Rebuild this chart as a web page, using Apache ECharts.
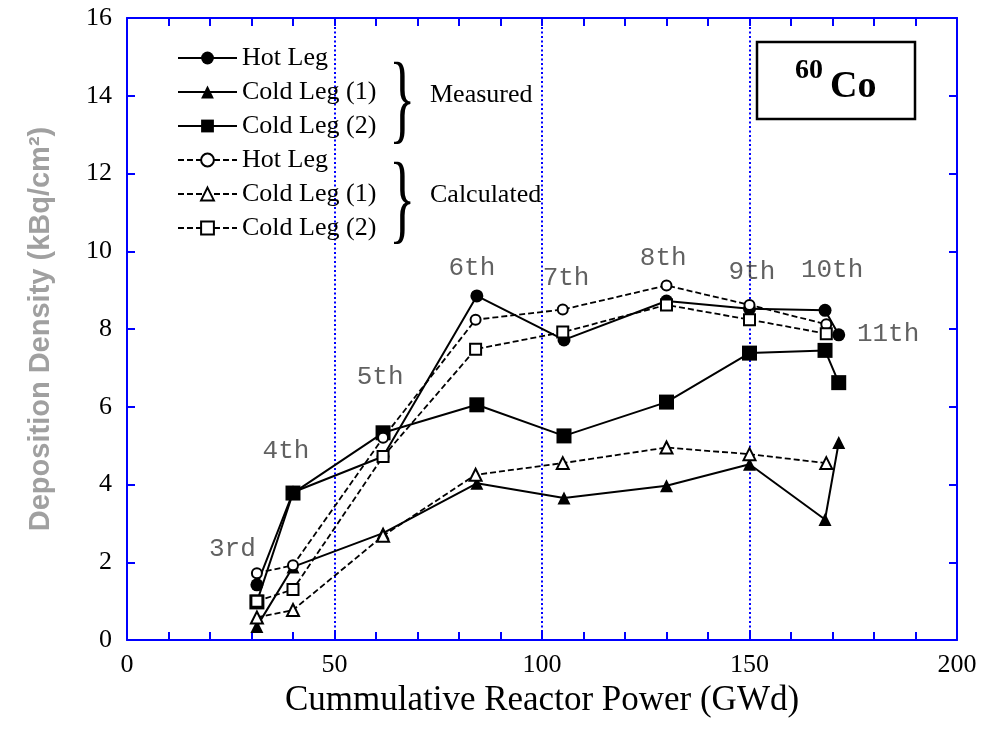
<!DOCTYPE html>
<html><head><meta charset="utf-8">
<script src="https://cdn.jsdelivr.net/npm/echarts/dist/echarts.min.js"></script>
<style>html,body{margin:0;padding:0;background:#fff}#c{width:985px;height:742px}</style>
</head><body><div id="c"></div>
<script>
// ---- data ----
const xMeasured = [31.3, 40, 61.7, 84.3, 105.3, 130, 150, 168.2, 171.5];
const hotLegMeasured = [1.42, 3.8, 4.72, 8.85, 7.72, 8.72, 8.52, 8.48, 7.85];
const coldLeg1Measured = [0.35, 1.88, 2.75, 4.03, 3.65, 3.97, 4.52, 3.1, 5.08];
const coldLeg2Measured = [0.98, 3.78, 5.33, 6.05, 5.25, 6.12, 7.38, 7.45, 6.62];

const xCalculated = [31.3, 40, 61.7, 84, 105, 130, 150, 168.5];
const hotLegCalculated = [1.72, 1.92, 5.2, 8.24, 8.5, 9.12, 8.62, 8.12];
const coldLeg1Calculated = [0.58, 0.77, 2.68, 4.25, 4.55, 4.95, 4.78, 4.55];
const coldLeg2Calculated = [1.0, 1.3, 4.72, 7.48, 7.92, 8.62, 8.24, 7.88];

const cycleLabels = ['3rd', '4th', '5th', '6th', '7th', '8th', '9th', '10th', '11th'];
const cycleLabelX = [25.4, 38.3, 61, 83.1, 105.8, 129.2, 150.6, 169.9, 183.4];
const cycleLabelY = [2.34, 4.86, 6.75, 9.57, 9.31, 9.83, 9.47, 9.52, 7.87];

const xTicks = [0, 50, 100, 150, 200];
const yTicks = [0, 2, 4, 6, 8, 10, 12, 14, 16];

// ---- chart ----
const BLUE = '#0000ff';
const SERIF = 'Liberation Serif';
const pairs = (xs, ys) => xs.map((x, i) => [x, ys[i]]);

const chart = echarts.init(document.getElementById('c'), null, {renderer: 'canvas'});

const measuredLine = {color: '#000', width: 2, type: 'solid'};
const calcLine = {color: '#000', width: 1.8, type: [6, 3]};
const openItem = {color: '#fff', borderColor: '#000', borderWidth: 2};

const series = [
  {name: 'M|Hot Leg', type: 'line', data: pairs(xMeasured, hotLegMeasured), symbol: 'circle', symbolSize: 13,
   itemStyle: {color: '#000'}, lineStyle: measuredLine, z: 2},
  {name: 'M|Cold Leg (1)', type: 'line', data: pairs(xMeasured, coldLeg1Measured), symbol: 'triangle', symbolSize: 13,
   itemStyle: {color: '#000'}, lineStyle: measuredLine, z: 2},
  {name: 'M|Cold Leg (2)', type: 'line', data: pairs(xMeasured, coldLeg2Measured), symbol: 'rect', symbolSize: 15,
   itemStyle: {color: '#000'}, lineStyle: measuredLine, z: 2},
  {name: 'C|Hot Leg', type: 'line', data: pairs(xCalculated, hotLegCalculated), symbol: 'circle', symbolSize: 10,
   itemStyle: openItem, lineStyle: calcLine, z: 3},
  {name: 'C|Cold Leg (1)', type: 'line', data: pairs(xCalculated, coldLeg1Calculated), symbol: 'triangle', symbolSize: 12,
   itemStyle: openItem, lineStyle: calcLine, z: 3},
  {name: 'C|Cold Leg (2)', type: 'line', data: pairs(xCalculated, coldLeg2Calculated), symbol: 'rect', symbolSize: 11,
   itemStyle: openItem, lineStyle: calcLine, z: 3},
  {name: 'cycles', type: 'scatter', symbolSize: 1, itemStyle: {color: 'rgba(0,0,0,0)'}, z: 4,
   data: cycleLabels.map((t, i) => ({name: t, value: [cycleLabelX[i], cycleLabelY[i]]})),
   label: {show: true, position: 'inside', formatter: '{b}', fontFamily: 'Liberation Mono', fontSize: 26, color: '#3a3a3a'}}
];

const axisLine = {show: true, onZero: false, lineStyle: {color: BLUE, width: 2}};
const tick = {show: true, inside: true, length: 8, lineStyle: {color: BLUE, width: 2}};

const option = {
  animation: false,
  backgroundColor: '#fff',
  grid: {left: 127, right: 28, top: 18, bottom: 102, containLabel: false, outerBoundsMode: 'none'},
  xAxis: [
    {type: 'value', position: 'bottom', min: 0, max: 200, interval: 50,
     axisLine, axisTick: tick,
     minorTick: {show: true, splitNumber: 5, length: 8, lineStyle: {color: BLUE, width: 2}},
     axisLabel: {show: true, margin: 12, fontFamily: SERIF, fontSize: 26, color: '#000',
                 formatter: v => xTicks.includes(v) ? String(v) : ''},
     splitLine: {show: true, lineStyle: {color: BLUE, width: 2, type: [2, 2.5]}},
     name: 'Cummulative Reactor Power (GWd)', nameLocation: 'middle', nameGap: 34,
     nameTextStyle: {fontFamily: SERIF, fontSize: 35, color: '#000'}},
    {type: 'value', position: 'top', min: 0, max: 200, interval: 50,
     axisLine, axisTick: tick,
     minorTick: {show: true, splitNumber: 5, length: 8, lineStyle: {color: BLUE, width: 2}},
     axisLabel: {show: false}, splitLine: {show: false}}
  ],
  yAxis: [
    {type: 'value', position: 'left', min: 0, max: 16, interval: 2,
     axisLine, axisTick: tick,
     axisLabel: {show: true, margin: 15, fontFamily: SERIF, fontSize: 26, color: '#000',
                 formatter: v => yTicks.includes(v) ? String(v) : ''},
     splitLine: {show: false},
     name: 'Deposition Density (kBq/cm²)', nameLocation: 'middle', nameGap: 72, nameRotate: 90,
     nameTextStyle: {fontFamily: 'Liberation Sans', fontWeight: 'bold', fontSize: 29, color: '#a0a0a0'}},
    {type: 'value', position: 'right', min: 0, max: 16, interval: 2,
     axisLine, axisTick: tick, axisLabel: {show: false}, splitLine: {show: false}}
  ],
  legend: {
    orient: 'vertical', left: 172, top: 40, itemWidth: 59, itemHeight: 16, itemGap: 8,
    selectedMode: false,
    data: ['M|Hot Leg', 'M|Cold Leg (1)', 'M|Cold Leg (2)', 'C|Hot Leg', 'C|Cold Leg (1)', 'C|Cold Leg (2)'],
    formatter: n => n.split('|')[1],
    textStyle: {fontFamily: SERIF, fontSize: 26, color: '#000', lineHeight: 26}
  },
  graphic: [
    {type: 'text', left: 389, top: 55, style: {text: '}', font: '100px "Liberation Serif"', fill: '#000'}, scaleX: 0.55},
    {type: 'text', left: 389, top: 155, style: {text: '}', font: '100px "Liberation Serif"', fill: '#000'}, scaleX: 0.55},
    {type: 'text', left: 430, top: 82, style: {text: 'Measured', font: '26px "Liberation Serif"', fill: '#000'}},
    {type: 'text', left: 430, top: 182, style: {text: 'Calculated', font: '26px "Liberation Serif"', fill: '#000'}},
    {type: 'rect', shape: {x: 757, y: 42, width: 158, height: 77}, style: {fill: '#fff', stroke: '#000', lineWidth: 2.5}, z: 10},
    {type: 'text', x: 795, y: 57, z: 11, style: {text: '60', font: 'bold 28px "Liberation Serif"', fill: '#000'}},
    {type: 'text', x: 830, y: 68, z: 11, style: {text: 'Co', font: 'bold 38px "Liberation Serif"', fill: '#000'}}
  ],
  series
};
chart.setOption(option);
</script></body></html>
